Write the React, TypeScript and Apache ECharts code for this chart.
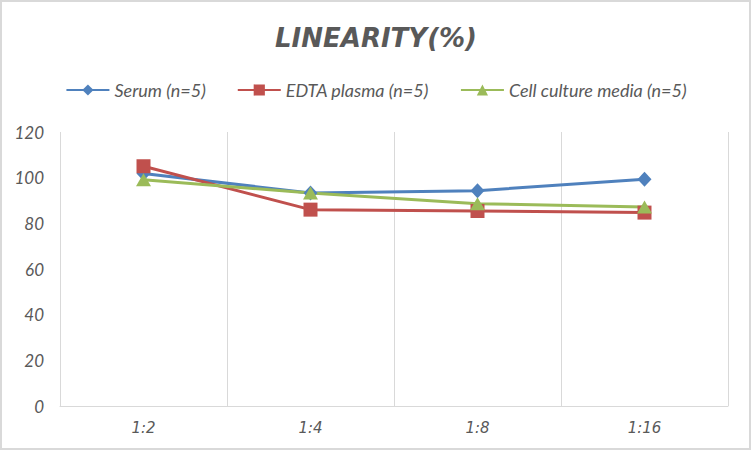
import * as echarts from "echarts"
import { useEffect, useRef } from "react"

const dilutions = ["1:2", "1:4", "1:8", "1:16"]
const serum = [101.8, 93.3, 94.3, 99.3]
const edtaPlasma = [105.0, 86.0, 85.4, 84.7]
const cellCulture = [99.1, 93.3, 88.6, 87.2]
const seriesNames = ["Serum (n=5)", "EDTA plasma (n=5)", "Cell culture media (n=5)"]

const GREY = "#595959"
const LINE_GREY = "#d9d9d9"

// Linearity line chart, Excel-style: three sample types across the dilution series.
export default function App() {
  const ref = useRef<HTMLDivElement>(null)

  useEffect(() => {
    if (!ref.current) return
    const chart = echarts.init(ref.current, null, { renderer: "svg" })

    const line = (name: string, data: number[], color: string, symbol: string, size: number | number[]) => ({
      name,
      type: "line",
      data,
      symbol,
      symbolSize: size,
      lineStyle: { color, width: 3 },
      itemStyle: { color },
    })

    chart.setOption({
      animation: false,
      backgroundColor: "#fff",
      title: {
        text: "LINEARITY(%)",
        left: "center",
        top: 20,
        textStyle: {
          fontFamily: "DejaVu Sans",
          fontStyle: "italic",
          fontWeight: "bold",
          fontSize: 26,
          color: GREY,
        },
      },
      legend: {
        top: 76,
        left: "center",
        itemWidth: 43,
        itemHeight: 14,
        itemGap: 31,
        textStyle: { fontFamily: "Lato", fontStyle: "italic", fontSize: 18, color: GREY },
        data: seriesNames,
      },
      grid: { left: 60, right: 24, top: 132, bottom: 46, containLabel: false },
      xAxis: {
        type: "category",
        data: dilutions,
        boundaryGap: true,
        axisLine: { lineStyle: { color: LINE_GREY, width: 1 } },
        axisTick: { show: false },
        splitLine: { show: true, lineStyle: { color: LINE_GREY, width: 1 } },
        axisLabel: {
          fontFamily: "DejaVu Sans",
          fontStyle: "italic",
          fontSize: 15,
          color: GREY,
          margin: 14,
        },
      },
      yAxis: {
        type: "value",
        min: 0,
        max: 120,
        interval: 20,
        axisLine: { show: false },
        axisTick: { show: false },
        splitLine: { show: false },
        axisLabel: {
          fontFamily: "Lato",
          fontStyle: "italic",
          fontSize: 17,
          color: GREY,
          margin: 16,
        },
      },
      graphic: [
        {
          type: "rect",
          shape: { x: 1, y: 1, width: 749, height: 448 },
          style: { fill: "none", stroke: LINE_GREY, lineWidth: 2 },
          silent: true,
        },
      ],
      series: [
        line(seriesNames[0], serum, "#4f81bd", "diamond", [14, 15]),
        line(seriesNames[1], edtaPlasma, "#c0504d", "rect", 14),
        line(seriesNames[2], cellCulture, "#9bbb59", "triangle", [15, 13]),
      ],
    })

    return () => chart.dispose()
  }, [])

  return <div ref={ref} style={{ position: "absolute", top: 0, left: 0, width: 752, height: 452 }} />
}
